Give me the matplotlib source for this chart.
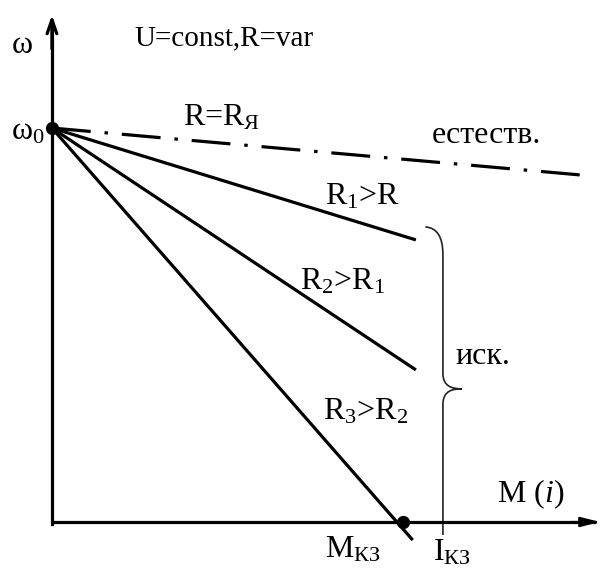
import numpy as np
import matplotlib.pyplot as plt
from matplotlib.path import Path
from matplotlib.patches import PathPatch

plt.rcParams['font.family'] = ['Liberation Serif', 'DejaVu Serif']
plt.rcParams['mathtext.fontset'] = 'custom'
plt.rcParams['mathtext.rm'] = 'Liberation Serif'
plt.rcParams['mathtext.it'] = 'Liberation Serif:italic'
plt.rcParams['lines.scale_dashes'] = False

# ---------------- характеристики ----------------
omega0 = 1.0          # скорость идеального холостого хода
M_kz = 1.0            # момент КЗ для R3
I_kz = 1.114          # ток КЗ (отметка скобки)

# конечные точки прямых: (M, omega)
natural_end = (1.504, 0.881)
art_M_end = [1.037, 1.037, 1.028]
art_w_end = [0.716, 0.386, -0.046]

x_axis_end = 1.57
y_axis_end = 1.294

fig = plt.figure(figsize=(6.04, 5.72), dpi=100)
ax = fig.add_axes([0, 0, 1, 1])
ax.set_xlim(-0.148, 1.573)
ax.set_ylim(-0.127, 1.325)
ax.axis('off')

# оси со стрелками
ax.plot([0, x_axis_end - 0.02], [0, 0], color='black', lw=2.3, solid_capstyle='butt')
ax.plot([0, 0], [0, y_axis_end - 0.02], color='black', lw=2.3, solid_capstyle='butt')
ax.plot([0, 0], [0, -0.004], color='black', lw=2.3)
ax.annotate('', xy=(0, y_axis_end), xytext=(0, y_axis_end - 0.1),
            arrowprops=dict(arrowstyle='->,head_length=1.0,head_width=0.35', color='black', lw=2.3))
ax.annotate('', xy=(x_axis_end, 0), xytext=(x_axis_end - 0.1, 0),
            arrowprops=dict(arrowstyle='-|>,head_length=1.2,head_width=0.3', color='black', lw=1.5))

# естественная характеристика
ax.plot([0, natural_end[0]], [omega0, natural_end[1]], color='black', lw=2.3,
        dashes=(28, 10, 2.5, 10))

# искусственные характеристики
for m, w in zip(art_M_end, art_w_end):
    ax.plot([0, m], [omega0, w], color='black', lw=2.3, solid_capstyle='butt')

ax.plot([0], [omega0], 'o', color='black', ms=8.5)
ax.plot([M_kz], [0], 'o', color='black', ms=8.5)

# фигурная скобка
b_top, b_bot, b_mid = 0.749, -0.033, 0.338
hook = 0.05
tip = 0.054
verts = [
    (I_kz - hook, b_top), (I_kz, b_top - 0.003), (I_kz, b_top - 0.07),
    (I_kz, b_mid + 0.04),
    (I_kz, b_mid + 0.005), (I_kz + tip * 0.5, b_mid), (I_kz + tip, b_mid),
    (I_kz + tip * 0.5, b_mid), (I_kz, b_mid - 0.005), (I_kz, b_mid - 0.04),
    (I_kz, b_bot),
]
codes = [Path.MOVETO, Path.CURVE3, Path.CURVE3,
         Path.LINETO,
         Path.CURVE4, Path.CURVE4, Path.CURVE4,
         Path.CURVE4, Path.CURVE4, Path.CURVE4,
         Path.LINETO]
ax.add_patch(PathPatch(Path(verts, codes), fill=False, lw=1.2, color='#222222'))

# подписи
fs = 23
ax.text(-0.085, 1.21, 'ω', fontsize=fs, ha='center', va='center')
ax.text(-0.02, 0.99, r'ω$_0$', fontsize=fs, ha='right', va='center')
ax.text(0.236, 1.228, 'U=const,R=var', fontsize=21, ha='left', va='center')
ax.text(0.373, 1.025, r'R=R$_{\mathrm{Я}}$', fontsize=fs, ha='left', va='center')
ax.text(1.083, 0.982, 'естеств.', fontsize=fs, ha='left', va='center')
ax.text(0.778, 0.825, r'R$_1$>R', fontsize=fs, ha='left', va='center')
ax.text(0.707, 0.609, r'R$_2$>R$_1$', fontsize=fs, ha='left', va='center')
ax.text(1.151, 0.419, 'иск.', fontsize=fs, ha='left', va='center')
ax.text(0.772, 0.279, r'R$_3$>R$_2$', fontsize=fs, ha='left', va='center')
ax.text(1.268, 0.071, r'M ($\mathit{i}$)', fontsize=fs, ha='left', va='center')
ax.text(0.778, -0.071, r'M$_{\mathrm{КЗ}}$', fontsize=fs, ha='left', va='center')
ax.text(1.085, -0.079, r'I$_{\mathrm{КЗ}}$', fontsize=fs, ha='left', va='center')

fig.savefig('out.png', dpi=100)
